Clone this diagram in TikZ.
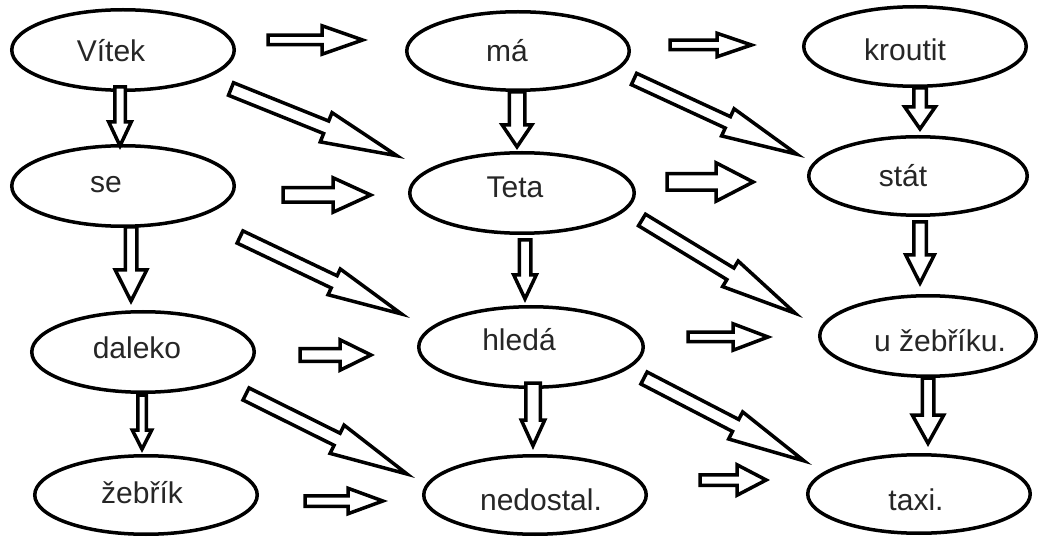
\documentclass[tikz,border=0pt]{standalone}
\usepackage{fontspec}
\setmainfont{Liberation Sans}
\usetikzlibrary{shapes.geometric,calc}
\tikzset{
  ell/.style={draw, line width=3.5pt, ellipse, inner sep=0pt, fill=white},
  lbl/.style={anchor=base, inner sep=0pt, text=black!85, font=\fontsize{30}{35}\selectfont},
  barrow/.style={draw, line width=3.5pt, fill=white, line join=miter, miter limit=20},
}
% #1 tail, #2 tip, #3 outer shaft half width, #4 outer head half width, #5 head length
\newcommand\blockarrow[5]{%
  \pgfmathsetmacro\bas{#3-1.75}%
  \pgfmathsetmacro\baw{#4-1.75}%
  \pgfmathsetmacro\bae{1.75*veclen(#4,#5)/#4}%
  \coordinate (#1-h) at ($(#2)!#5pt!(#1)$);
  \coordinate (#1-p) at ($(#2)!\bae pt!(#1)$);
  \draw[barrow] ($(#1)!\bas pt!90:(#2)$) -- ($(#1-h)!\bas pt!90:(#2)$)
    -- ($(#1-h)!\baw pt!90:(#2)$) -- (#1-p)
    -- ($(#1-h)!\baw pt!-90:(#2)$) -- ($(#1-h)!\bas pt!-90:(#2)$)
    -- ($(#1)!\bas pt!-90:(#2)$) -- cycle;
}
\newcommand\ellnode[5]{% name, x, y, rx, ry
  \node[ell, minimum width={2*(#4-1.75)*1pt}, minimum height={2*(#5-1.75)*1pt}] (#1) at (#2,#3) {};
}
\begin{document}
\begin{tikzpicture}[x=1pt,y=-1pt]
\useasboundingbox (0,0) rectangle (1039,537);
% ellipses
\ellnode{vitek}{123}{50}{113}{42}
\ellnode{ma}{518}{51}{113}{41}
\ellnode{kroutit}{915}{46.5}{113}{41.5}
\ellnode{se}{123}{186}{113}{42}
\ellnode{teta}{522}{193}{114}{42}
\ellnode{stat}{918}{176}{111}{41}
\ellnode{daleko}{143}{352}{113}{42}
\ellnode{hleda}{531}{347}{114}{42}
\ellnode{uzebriku}{928}{336}{110}{42}
\ellnode{zebrik}{146}{495}{113}{41}
\ellnode{nedostal}{535}{495}{113}{41}
\ellnode{taxi}{919}{494}{113}{41}
% labels
\node[lbl] (vitek-t) at (111,62) {Vítek};
\node[lbl] (ma-t) at (507,62) {má};
\node[lbl] (kroutit-t) at (905,61) {kroutit};
\node[lbl] (se-t) at (106,193) {se};
\node[lbl] (teta-t) at (515,198) {Teta};
\node[lbl] (stat-t) at (903,187) {stát};
\node[lbl] (daleko-t) at (137,359) {daleko};
\node[lbl] (hleda-t) at (519,350) {hledá};
\node[lbl] (uzebriku-t) at (940,352) {u žebříku.};
\node[lbl] (zebrik-t) at (142,503) {žebřík};
\node[lbl] (nedostal-t) at (541,510) {nedostal.};
\node[lbl] (taxi-t) at (916,510) {taxi.};
% arrow end points
\coordinate (h1) at (268,40);  \coordinate (h1e) at (368,40);
\coordinate (h2) at (670,45);  \coordinate (h2e) at (757,45);
\coordinate (h3) at (283,195); \coordinate (h3e) at (375,195);
\coordinate (h4) at (667,182); \coordinate (h4e) at (757,182);
\coordinate (h5) at (300,355); \coordinate (h5e) at (375,355);
\coordinate (h6) at (688,337); \coordinate (h6e) at (773,337);
\coordinate (h7) at (305,501); \coordinate (h7e) at (388,501);
\coordinate (h8) at (700,480); \coordinate (h8e) at (770,480);
\coordinate (v1) at (120,87);  \coordinate (v1e) at (120,150);
\coordinate (v2) at (131,227); \coordinate (v2e) at (131,305);
\coordinate (v3) at (142,395); \coordinate (v3e) at (142,453);
\coordinate (v4) at (517,92);  \coordinate (v4e) at (517,150);
\coordinate (v5) at (525,240); \coordinate (v5e) at (525,303);
\coordinate (v6) at (533,383); \coordinate (v6e) at (533,450);
\coordinate (v7) at (920,88);  \coordinate (v7e) at (920,132);
\coordinate (v8) at (920,222); \coordinate (v8e) at (920,287);
\coordinate (v9) at (928,378); \coordinate (v9e) at (928,447);
\coordinate (d1) at (231,89);  \coordinate (d1e) at (405,159);
\coordinate (d2) at (634,79);  \coordinate (d2e) at (805,158);
\coordinate (d3) at (240,237); \coordinate (d3e) at (410,318);
\coordinate (d4) at (642,220); \coordinate (d4e) at (803,318);
\coordinate (d5) at (246,394); \coordinate (d5e) at (415,478);
\coordinate (d6) at (644,378); \coordinate (d6e) at (812,465);
% arrows
\blockarrow{h1}{h1e}{6.5}{16}{46}
\blockarrow{h2}{h2e}{6.5}{13.5}{40}
\blockarrow{h3}{h3e}{9}{19}{42}
\blockarrow{h4}{h4e}{10}{21}{41}
\blockarrow{h5}{h5e}{8}{17}{35}
\blockarrow{h6}{h6e}{6.5}{15}{40}
\blockarrow{h7}{h7e}{7}{14.5}{40}
\blockarrow{h8}{h8e}{7}{17}{33}
\blockarrow{v1}{v1e}{7}{13}{28}
\blockarrow{v2}{v2e}{7.5}{17.5}{35}
\blockarrow{v3}{v3e}{6}{11.5}{23}
\blockarrow{v4}{v4e}{9.5}{16.5}{25}
\blockarrow{v5}{v5e}{7.5}{13}{28}
\blockarrow{v6}{v6e}{9}{13.5}{30}
\blockarrow{v7}{v7e}{8}{17}{25}
\blockarrow{v8}{v8e}{8}{16}{32}
\blockarrow{v9}{v9e}{7.5}{17.5}{32}
\blockarrow{d1}{d1e}{8.5}{17.5}{85}
\blockarrow{d2}{d2e}{8}{16.7}{85}
\blockarrow{d3}{d3e}{8.5}{16}{84}
\blockarrow{d4}{d4e}{8.5}{16.7}{85}
\blockarrow{d5}{d5e}{8.5}{17.5}{87}
\blockarrow{d6}{d6e}{8.5}{17}{86}
\end{tikzpicture}
\end{document}
